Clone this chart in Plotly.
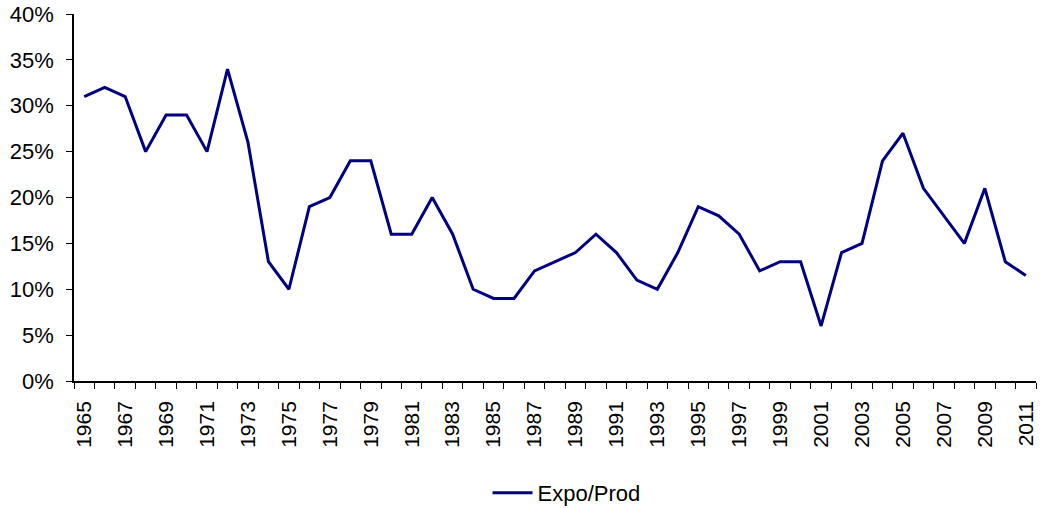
import plotly.graph_objects as go

years = list(range(1965, 2012))
expo_prod = [31, 32, 31, 25, 29, 29, 25, 34, 26, 13, 10, 19, 20, 24, 24, 16, 16, 20, 16, 10,
             9, 9, 12, 13, 14, 16, 14, 11, 10, 14, 19, 18, 16, 12, 13, 13, 6, 14, 15, 24,
             27, 21, 18, 15, 21, 13, 11.5]
tick_years = list(range(1965, 2012, 2))

fig = go.Figure()
fig.add_trace(go.Scatter(
    x=years, y=[v / 100 for v in expo_prod], mode="lines", name="Expo/Prod",
    line=dict(color="#000080", width=3),
))

fam = "Liberation Sans, Arial, sans-serif"
font_x = dict(family=fam, size=21, color="#000000")
font_y = dict(family=fam, size=22, color="#000000")
fig.update_layout(
    width=1040, height=508,
    margin=dict(l=74, r=4, t=14, b=127, autoexpand=False),
    paper_bgcolor="white", plot_bgcolor="white",
    font=font_y,
    showlegend=True,
    legend=dict(orientation="h", x=0.512, xanchor="center", y=-0.305, yanchor="middle",
                font=dict(family=fam, size=22, color="#000000"), itemwidth=40),
    xaxis=dict(
        range=[1964.5, 2011.5], tickmode="array", tickvals=tick_years,
        ticktext=[str(y) for y in tick_years], tickangle=-90, automargin=False,
        ticks="outside", ticklen=0, showgrid=False, zeroline=False,
        showline=True, linecolor="black", linewidth=1.5, ticklabelstandoff=10,
        minor=dict(tick0=1964.5, dtick=1, ticks="outside", ticklen=6, tickcolor="black", showgrid=False),
        tickfont=font_x,
    ),
    yaxis=dict(
        range=[0, 0.4], dtick=0.05, tickformat=".0%", automargin=False,
        ticks="outside", ticklen=6, tickcolor="black", showgrid=False, zeroline=False,
        showline=True, linecolor="black", linewidth=1.5, tickfont=font_y, ticklabelstandoff=8,
    ),
)

fig.write_html("out.html", config={"displayModeBar": False},
               post_script="document.body.style.margin='0';document.body.style.overflow='hidden';")
